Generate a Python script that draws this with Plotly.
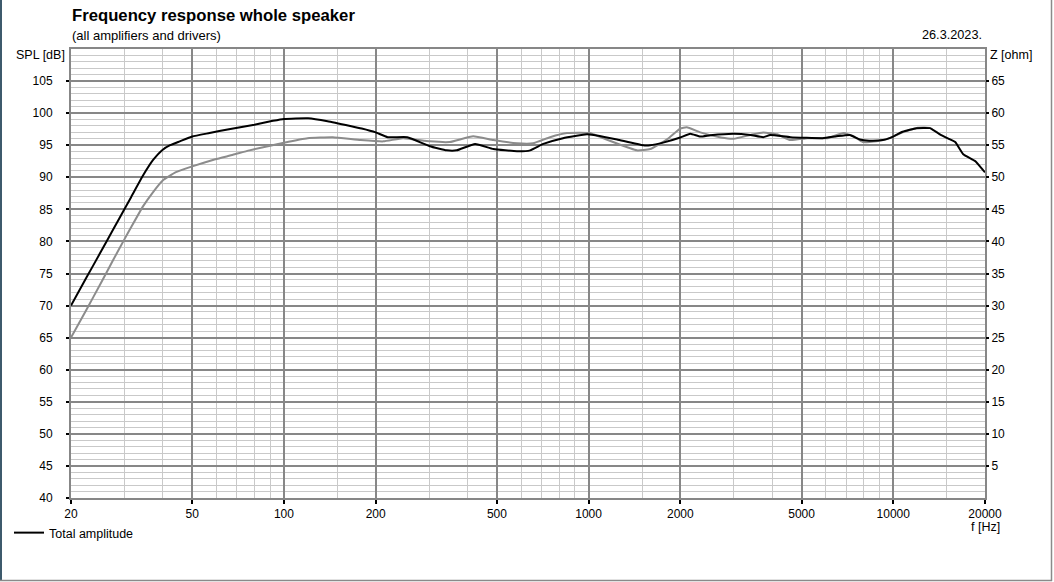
import numpy as np
import plotly.graph_objects as go

# ---------------- data ----------------
total_freq = [20, 22.5, 25, 27.5, 30, 31.5, 34.5, 37.2, 40, 42.3, 45.5, 50, 57, 66, 80,
              92, 100, 120, 139, 165, 180, 200, 219, 254, 301, 342, 369, 424, 487, 582,
              643, 710, 824, 988, 1088, 1240, 1510, 1592, 1756, 1998, 2155, 2325, 2510,
              2990, 3400, 3741, 3946, 4596, 5866, 6520, 7199, 7761, 8340, 9240, 9724,
              10736, 11930, 13180, 14220, 15370, 15970, 16970, 18600, 19800, 20000]
total_db = [70.0, 74.4, 78.3, 81.85, 85.1, 86.9, 90.3, 92.7, 94.3, 95.0, 95.6, 96.35, 96.9, 97.5, 98.2,
            98.8, 99.1, 99.2, 98.75, 98.0, 97.6, 97.0, 96.25, 96.25, 94.84, 94.2, 94.2, 95.2,
            94.4, 94.06, 94.2, 95.2, 96.1, 96.7, 96.45, 95.9, 95.0, 95.0, 95.4, 96.2, 96.8,
            96.35, 96.56, 96.8, 96.6, 96.25, 96.6, 96.25, 96.1, 96.4, 96.6, 95.9, 95.7,
            95.8, 96.1, 97.1, 97.66, 97.66, 96.7, 95.9, 95.5, 93.6, 92.5, 91.0, 90.8]

ref_freq = [20, 22.5, 25, 27.5, 30, 31.5, 34.5, 37.2, 40, 44.2, 50, 59.5, 68, 77, 100,
            119.6, 144.6, 178.5, 212, 246, 301, 350, 418, 487, 582, 657, 747, 849,
            1010, 1088, 1203, 1440, 1592, 1810, 1998, 2100, 2325, 2720, 2990, 3400, 3741,
            4160, 4596, 5230, 6090, 6860, 7400, 7940, 8807, 9724, 10736, 11930, 13180, 14220]
ref_db = [65.0, 69.4, 73.4, 77.1, 80.4, 82.2, 85.5, 87.7, 89.5, 90.8, 91.7, 92.8, 93.5, 94.2, 95.4,
          96.1, 96.25, 95.8, 95.6, 96.1, 95.6, 95.5, 96.4, 95.8, 95.3, 95.3, 96.25, 96.9,
          96.9, 96.3, 95.5, 94.2, 94.4, 95.9, 97.6, 97.8, 97.0, 96.2, 96.0, 96.6, 97.0,
          96.7, 95.8, 96.1, 96.1, 96.9, 96.4, 95.5, 95.6, 96.1, 97.0, 97.7, 97.7, 96.7]

x_ticks = [20, 50, 100, 200, 500, 1000, 2000, 5000, 10000, 20000]
x_ticktext = ["20", "50", "100", "200", "500", "1000", "2000", "5000", "10000", "20000"]
x_minor = [30, 40, 60, 70, 80, 90, 150, 300, 400, 600, 700, 800, 900, 1500,
           3000, 4000, 6000, 7000, 8000, 9000, 15000]
spl_ticks = list(range(40, 110, 5))
z_ticks = list(range(5, 70, 5))

# ---------------- layout geometry ----------------
W, H = 1054, 582
L, R, T, B = 71, 985, 49, 498
PW, PH = R - L, B - T


def px(x):
    return (x - L) / PW


def py(y):
    return (B - y) / PH


FONT = "Liberation Sans, Arial, sans-serif"
MAJOR = "#878787"
MINOR = "#c9c9c9"

fig = go.Figure()
fig.add_trace(go.Scatter(x=ref_freq, y=ref_db, mode="lines",
                         line=dict(color="#8c8c8c", width=2, shape="spline", smoothing=0.4),
                         showlegend=False, hoverinfo="skip"))
fig.add_trace(go.Scatter(x=total_freq, y=total_db, mode="lines", name="Total amplitude",
                         line=dict(color="#000000", width=2, shape="spline", smoothing=0.4)))
fig.add_trace(go.Scatter(x=[], y=[], yaxis="y2", showlegend=False))

fig.update_layout(
    width=W, height=H,
    margin=dict(l=L, r=W - R, t=T, b=H - B, autoexpand=False),
    paper_bgcolor="white", plot_bgcolor="white",
    font=dict(family=FONT, size=12, color="black"),
    xaxis=dict(type="log", range=[np.log10(20), np.log10(20000)],
               tickvals=x_ticks, ticktext=x_ticktext,
               showgrid=True, gridcolor=MAJOR, gridwidth=2,
               showline=True, linecolor=MAJOR, linewidth=2, mirror=True,
               ticks="outside", ticklen=4, tickwidth=2, tickcolor="black",
               minor=dict(tickvals=x_minor, showgrid=True, gridcolor=MINOR, gridwidth=1, ticks=""),
               zeroline=False, fixedrange=True, automargin=False),
    yaxis=dict(range=[40, 110], tickvals=spl_ticks,
               showgrid=True, gridcolor=MAJOR, gridwidth=2,
               showline=True, linecolor=MAJOR, linewidth=2, mirror=True,
               ticks="outside", ticklen=3, tickwidth=2, tickcolor="black", ticklabelstandoff=11,
               minor=dict(dtick=1, tick0=40, showgrid=True, gridcolor=MINOR, gridwidth=1, ticks=""),
               zeroline=False, fixedrange=True, automargin=False),
    yaxis2=dict(range=[0, 70], tickvals=z_ticks, overlaying="y", side="right",
                showgrid=False, showline=False, zeroline=False,
                ticks="outside", ticklen=3, tickwidth=2, tickcolor="black", fixedrange=True,
                automargin=False),
    legend=dict(x=px(9), y=py(518), xanchor="left", yanchor="top",
                bgcolor="rgba(0,0,0,0)", borderwidth=0, itemwidth=30,
                font=dict(family=FONT, size=12.5)),
    showlegend=True,
)

annots = [
    dict(text="<b>Frequency response whole speaker</b>", x=px(70), y=py(16),
         xanchor="left", yanchor="middle", font=dict(size=16.7)),
    dict(text="(all amplifiers and drivers)", x=px(70), y=py(35),
         xanchor="left", yanchor="middle", font=dict(size=13)),
    dict(text="26.3.2023.", x=px(984), y=py(35),
         xanchor="right", yanchor="middle", font=dict(size=12.7)),
    dict(text="SPL [dB]", x=px(67), y=py(55),
         xanchor="right", yanchor="middle", font=dict(size=12.5)),
    dict(text="Z [ohm]", x=px(988), y=py(55),
         xanchor="left", yanchor="middle", font=dict(size=12.5)),
    dict(text="f [Hz]", x=px(985), y=py(527),
         xanchor="center", yanchor="middle", font=dict(size=12.5)),
]
for a in annots:
    a.update(xref="paper", yref="paper", showarrow=False)
    fig.add_annotation(**a)

# window frame
fig.add_shape(type="line", xref="paper", yref="paper", x0=px(1), x1=px(1), y0=py(0), y1=py(581),
              line=dict(color="#3d5a6c", width=2))
fig.add_shape(type="line", xref="paper", yref="paper", x0=px(0), x1=px(1052), y0=py(580.5), y1=py(580.5),
              line=dict(color="#8a8a8a", width=1.5))
fig.add_shape(type="line", xref="paper", yref="paper", x0=px(1051.5), x1=px(1051.5), y0=py(0), y1=py(581),
              line=dict(color="#8a8a8a", width=1.5))

fig.write_html("out.html", config={"displayModeBar": False},
               post_script="document.body.style.margin='0';document.body.style.overflow='hidden';")
